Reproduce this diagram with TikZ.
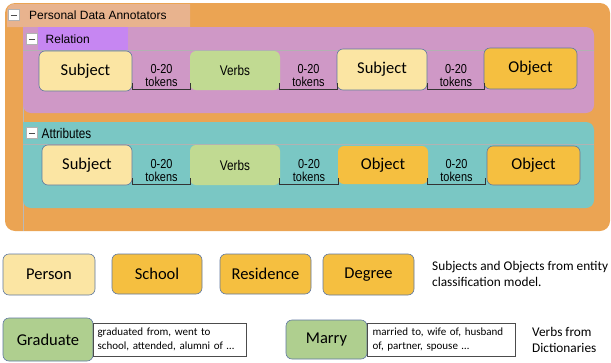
\documentclass[tikz,border=0pt]{standalone}
\usepackage{fontspec}
\usepackage{tikz}
\setmainfont{Carlito}
\newfontfamily\arialfont{Liberation Sans}
\newfontfamily\narrowfont[FakeStretch=0.84]{Liberation Sans}
\definecolor{annorange}{RGB}{235,164,83}
\definecolor{annsalmon}{RGB}{232,179,142}
\definecolor{relpink}{RGB}{207,152,198}
\definecolor{relpurple}{RGB}{198,134,242}
\definecolor{attrteal}{RGB}{122,199,196}
\definecolor{subjyellow}{RGB}{251,229,163}
\definecolor{objorange}{RGB}{245,191,64}
\definecolor{verbgreen}{RGB}{193,218,146}
\definecolor{dictgreen}{RGB}{175,207,143}
\definecolor{boxline}{RGB}{95,120,160}

\begin{document}
\begin{tikzpicture}[x=1pt,y=-1pt,
	ent/.style={rounded corners=6pt,draw=boxline,line width=0.6pt,inner sep=0pt,font=\fontsize{16.5}{18}\selectfont},
	subj/.style={ent,fill=subjyellow},
	obj/.style={ent,fill=objorange},
	objflat/.style={ent,draw=none,fill=objorange},
	verb/.style={rounded corners=6pt,fill=verbgreen,inner sep=0pt,font=\narrowfont\fontsize{14}{16}\selectfont},
	dict/.style={ent,fill=dictgreen},
	tok/.style={inner xsep=0pt,inner ysep=2pt,align=center,font=\narrowfont\fontsize{13}{13}\selectfont},
	brk/.style={line width=0.8pt,black!80},
	minus/.style={draw=gray!60,fill=white,minimum size=11pt,inner sep=0pt,
		path picture={\draw[black!70,line width=0.8pt] ([xshift=2.5pt]path picture bounding box.west) -- ([xshift=-2.5pt]path picture bounding box.east);}},
	desc/.style={draw=black!70,fill=white,line width=0.5pt,align=left,inner xsep=4pt,font=\fontsize{11}{14}\selectfont},
	note/.style={align=left,anchor=west,inner sep=0pt,font=\fontsize{13.3}{16}\selectfont}]
	\useasboundingbox (0,0) rectangle (611,362);
	% outer frame
	\fill[annorange,rounded corners=10pt] (5,3) rectangle (610,231);
	\fill[annsalmon] (7,27) [rounded corners=7pt] -- (7,4) [sharp corners] -- (190,4) -- (190,27) -- cycle;
	\draw[gray!55,line width=0.5pt] (23,27) -- (23,231);
	\node[minus] (topminus) at (13.5,15) {};
	\node[anchor=west,inner sep=0pt,font=\arialfont\fontsize{12}{14}\selectfont] (title) at (29,15.5) {Personal Data Annotators};
	% relation panel
	\fill[relpink] (23,27) [rounded corners=8pt] -- (594,27) -- (594,113) -- (23,113) [sharp corners] -- cycle;
	\fill[relpurple] (38,27) rectangle (128,50);
	\draw[gray!60,line width=0.5pt] (23,50) -- (594,50);
	\node[minus] (relminus) at (32,39) {};
	\node[anchor=west,inner sep=0pt,font=\arialfont\fontsize{12}{14}\selectfont] (reltitle) at (45.5,39) {Relation};
	\node[subj,minimum width=93pt,minimum height=40pt] (relsubja) at (85.5,71) {Subject};
	\node[verb,minimum width=90pt,minimum height=39pt] (relverb) at (235,70.5) {Verbs};
	\node[subj,minimum width=90pt,minimum height=41pt] (relsubjb) at (382,69.5) {Subject};
	\node[obj,minimum width=93pt,minimum height=41pt] (relobj) at (530.5,68.5) {Object};
	\foreach \n/\x/\w in {a/161.5/57,b/308.5/57,c/456/56}
	{
		\node[tok,minimum width=\w pt,anchor=south] (reltok\n) at (\x,89) {0-20\\tokens};
		\draw[brk] ([yshift=6pt]reltok\n.south west) -- (reltok\n.south west) -- (reltok\n.south east) -- ([yshift=6pt]reltok\n.south east);
	}
	% attributes panel
	\fill[attrteal] (23,122) [rounded corners=8pt] -- (594,122) -- (594,208) -- (23,208) [sharp corners] -- cycle;
	\draw[gray!60,line width=0.5pt] (23,144) -- (594,144);
	\node[minus] (attrminus) at (32,133) {};
	\node[anchor=west,inner sep=0pt,font=\narrowfont\fontsize{14}{16}\selectfont] (attrtitle) at (41.5,133) {Attributes};
	\node[subj,minimum width=90pt,minimum height=40pt] (attrsubj) at (87,165) {Subject};
	\node[verb,minimum width=90pt,minimum height=40pt] (attrverb) at (235,165) {Verbs};
	\node[objflat,minimum width=90pt,minimum height=38pt] (attrobja) at (383,165) {Object};
	\node[obj,minimum width=93pt,minimum height=39pt] (attrobjb) at (533.5,165.5) {Object};
	\foreach \n/\x/\w in {a/161.5/57,b/309/58,c/456.5/57}
	{
		\node[tok,minimum width=\w pt,anchor=south] (attrtok\n) at (\x,184) {0-20\\tokens};
		\draw[brk] ([yshift=6pt]attrtok\n.south west) -- (attrtok\n.south west) -- (attrtok\n.south east) -- ([yshift=6pt]attrtok\n.south east);
	}
	% legend: entities
	\node[subj,minimum width=92pt,minimum height=41pt] (person) at (49,274.5) {Person};
	\node[obj,minimum width=90pt,minimum height=40pt] (school) at (157,274) {School};
	\node[obj,minimum width=91pt,minimum height=40pt] (residence) at (265.5,274) {Residence};
	\node[obj,minimum width=91pt,minimum height=41pt] (degree) at (368.5,274.5) {Degree};
	\node[note] (entnote) at (432,274) {Subjects and Objects from entity\\classification model.};
	% legend: verbs
	\node[dict,minimum width=90pt,minimum height=43pt] (graduate) at (48,339.5) {Graduate};
	\node[desc,text width=145pt,minimum height=33pt,anchor=west] (graddesc) at (graduate.east) {graduated from, went to\\school, attended, alumni of …};
	\node[dict,minimum width=81pt,minimum height=39pt] (marry) at (326.5,339.5) {Marry};
	\node[desc,text width=138pt,inner xsep=5pt,minimum height=33pt,anchor=west] (marrydesc) at (marry.east) {married to, wife of, husband\\of, partner, spouse …};
	\node[note] (dictnote) at (532,340) {Verbs from\\Dictionaries};
\end{tikzpicture}
\end{document}
